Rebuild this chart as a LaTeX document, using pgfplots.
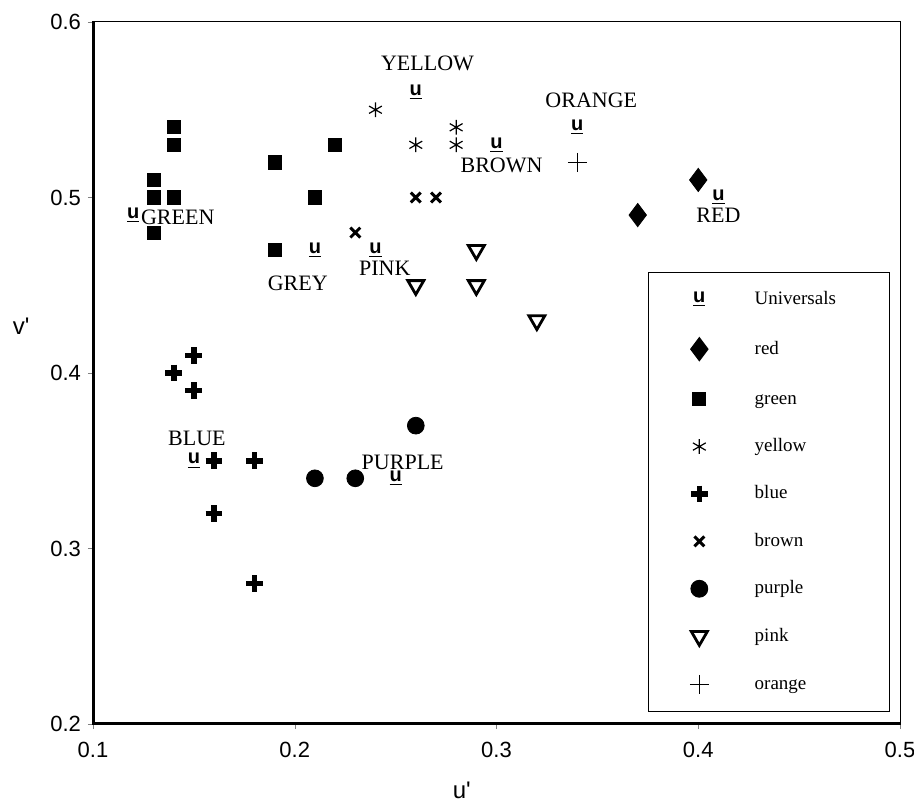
\documentclass[border=0pt]{standalone}
\usepackage{fontspec}
\setmainfont{Liberation Serif}
\setsansfont{Liberation Sans}
\usepackage{pgfplots}
\pgfplotsset{compat=1.18}
\usetikzlibrary{calc}

\newcommand{\lab}{\fontsize{11}{13}\selectfont}
\newcommand{\gap}{\hspace*{23pt}}
\newcommand{\umark}{\sffamily\bfseries\fontsize{10}{12}\selectfont\underline{u}}

\begin{document}
\begin{tikzpicture}
\begin{axis}[
  scale only axis,
  width=403.5pt, height=351pt,
  xmin=0.1, xmax=0.5, ymin=0.2, ymax=0.6,
  xtick={0.1,0.2,0.3,0.4,0.5},
  ytick={0.2,0.3,0.4,0.5,0.6},
  /pgf/number format/.cd, fixed, fixed zerofill, precision=1, assume math mode=true,
  /pgfplots/.cd,
  ticklabel style={font=\sffamily\fontsize{11}{13}\selectfont},
  xticklabel style={yshift=-3pt},
  tick align=outside, xtick pos=bottom, ytick pos=left,
  major tick length=2.5pt,
  axis line style={line width=0.5pt},
  xlabel={u\textquotesingle}, ylabel={v\textquotesingle},
  label style={font=\sffamily\fontsize{12}{14}\selectfont},
  xlabel style={at={(0.457,-0.094)}, anchor=center},
  ylabel style={at={(-0.089,0.567)}, rotate=-90, anchor=center},
  legend style={
    at={(0.9876,0.017)}, anchor=south east,
    draw=black, line width=0.5pt, fill=white,
    inner xsep=20.75pt, inner ysep=9pt, row sep=14.7pt,
    font=\fontsize{9.5}{11}\selectfont,
    cells={anchor=west},
    nodes={inner sep=0pt, text height=7pt, text depth=2pt},
  },
]

% universals
\addplot[only marks, mark=text, text mark={\umark}]
  coordinates {(0.12,0.49)(0.21,0.47)(0.26,0.56)(0.30,0.53)(0.34,0.54)
               (0.41,0.50)(0.24,0.47)(0.15,0.35)(0.25,0.34)};
\addlegendentry{\gap Universals\hspace*{6pt}}

% red
\addplot[only marks, mark=diamond*, mark size=5.8pt, black]
  coordinates {(0.40,0.51)(0.37,0.49)};
\addlegendentry{\gap red}

% green
\addplot[only marks, mark=square*, mark size=3.3pt, black]
  coordinates {(0.14,0.54)(0.14,0.53)(0.13,0.51)(0.13,0.50)(0.14,0.50)
               (0.13,0.48)(0.19,0.52)(0.22,0.53)(0.21,0.50)(0.19,0.47)};
\addlegendentry{\gap green}

% yellow
\addplot[only marks, mark=asterisk, mark size=3.7pt, black, mark options={line width=0.6pt}]
  coordinates {(0.24,0.55)(0.26,0.53)(0.28,0.54)(0.28,0.53)};
\addlegendentry{\gap yellow}

% blue
\addplot[only marks, mark=+, mark size=4.2pt, black, mark options={line width=2.8pt}]
  coordinates {(0.15,0.41)(0.14,0.40)(0.15,0.39)(0.16,0.35)(0.18,0.35)
               (0.16,0.32)(0.18,0.28)};
\addlegendentry{\gap blue}

% brown
\addplot[only marks, mark=x, mark size=3.5pt, black, mark options={line width=1.5pt}]
  coordinates {(0.26,0.50)(0.27,0.50)(0.23,0.48)};
\addlegendentry{\gap brown}

% purple
\addplot[only marks, mark=*, mark size=4.2pt, black]
  coordinates {(0.26,0.37)(0.21,0.34)(0.23,0.34)};
\addlegendentry{\gap purple}

% pink
\addplot[only marks, mark=triangle, mark size=4.6pt, black,
  mark options={rotate=180, fill=white, line width=1.4pt}]
  coordinates {(0.29,0.47)(0.26,0.45)(0.29,0.45)(0.32,0.43)};
\addlegendentry{\gap pink}

% orange
\addplot[only marks, mark=+, mark size=4.7pt, black, mark options={line width=0.6pt}]
  coordinates {(0.34,0.52)};
\addlegendentry{\gap orange}

% thick left and bottom axis lines
\draw[line width=1.6pt] (rel axis cs:0,1) -- (rel axis cs:0,0) -- (rel axis cs:1,0);

% colour name labels
\node[font=\lab] at (axis cs:0.2658,0.5766) {YELLOW};
\node[font=\lab] at (axis cs:0.347,0.5556) {ORANGE};
\node[font=\lab] at (axis cs:0.3025,0.5185) {BROWN};
\node[font=\lab] at (axis cs:0.142,0.4889) {GREEN};
\node[font=\lab] at (axis cs:0.410,0.490) {RED};
\node[font=\lab] at (axis cs:0.2015,0.4513) {GREY};
\node[font=\lab] at (axis cs:0.2446,0.4598) {PINK};
\node[font=\lab] at (axis cs:0.1515,0.363) {BLUE};
\node[font=\lab] at (axis cs:0.2535,0.349) {PURPLE};
\end{axis}
\pgfresetboundingbox
\path ($(current axis.south west)+(-46.5pt,-39pt)$) rectangle ($(current axis.north east)+(7pt,11pt)$);
\end{tikzpicture}
\end{document}
